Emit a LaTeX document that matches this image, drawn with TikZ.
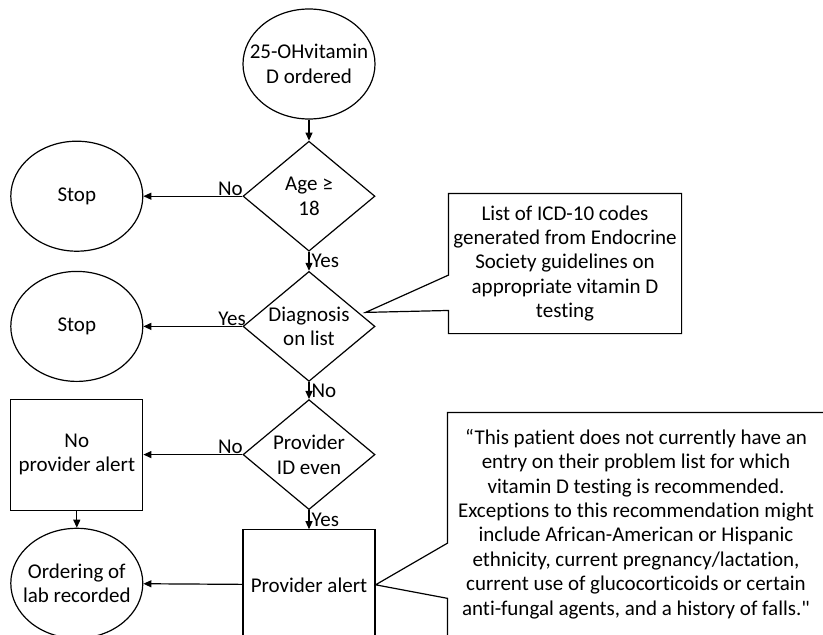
\documentclass[tikz,border=0pt]{standalone}
\usepackage{fontspec}
\setmainfont{Carlito}[Ligatures={TeXOff,NoCommon}]
\usetikzlibrary{arrows.meta,positioning,calc,shapes.geometric}

\begin{document}
\begin{tikzpicture}[x=1pt,y=1pt,line width=1.2pt,
  every node/.style={font=\fontsize{21pt}{24.4pt}\selectfont},
  term/.style={draw,ellipse,minimum width=132pt,minimum height=110pt,
               inner sep=-30pt,align=center},
  test/.style={draw,diamond,aspect=1.2,minimum width=132pt,
               minimum height=110pt,inner sep=-2pt,align=center},
  box/.style={draw,minimum width=132pt,minimum height=111pt,align=center},
  note/.style={align=center,inner sep=0pt},
  flow/.style={-{Triangle[length=8pt,width=7pt]}},
  lbl/.style={inner sep=2pt}]
  \useasboundingbox (0,0) rectangle (823,-635);
  \node[term] (start) at (309,-64) {25-OHvitamin\\D ordered};
  \node[test,below=21pt of start] (age) {Age ≥\\18};
  \node[test,below=19pt of age] (diag) {Diagnosis\\on list};
  \node[test,below=17pt of diag] (prov) {Provider\\ID even};
  \node[box,below=19pt of prov,minimum height=110pt] (alert) {Provider alert};
  \node[term,left=99pt of age] (stop1) {Stop};
  \node[term,left=99pt of diag] (stop2) {Stop};
  \node[box,left=99pt of prov] (noalert) {No\\provider alert};
  \node[term,below=17pt of noalert] (order) {Ordering of\\lab recorded};
  \node[note,minimum width=232pt,minimum height=139pt] (note1) at (565,-263.5)
       {List of ICD-10 codes\\generated from Endocrine\\Society guidelines on\\
        appropriate vitamin D\\testing};
  \node[note,minimum width=376pt,minimum height=222pt] (note2) at (636,-524)
       {“This patient does not currently have an\\
        entry on their problem list for which\\
        vitamin D testing is recommended.\\
        Exceptions to this recommendation might\\
        include African-American or Hispanic\\
        ethnicity, current pregnancy/lactation,\\
        current use of glucocorticoids or certain\\
        anti-fungal agents, and a history of falls."};
  \coordinate (tip1) at ($(diag.east)+(-10,14)$);
  \draw[flow] (start) -- (age);
  \draw[flow] (age) -- node[right,lbl] {Yes} (diag);
  \draw[flow] (diag) -- node[right,lbl] {No} (prov);
  \draw[flow] (prov) -- node[right,lbl] {Yes} (alert);
  \draw[flow] (age) -- node[pos=0,anchor=base east,lbl,xshift=3pt,yshift=1pt] {No} (stop1);
  \draw[flow] (diag) -- node[pos=0,anchor=base east,lbl,xshift=6pt,yshift=1pt] {Yes} (stop2);
  \draw[flow] (prov) -- node[pos=0,anchor=base east,lbl,xshift=3pt,yshift=1pt] {No} (noalert);
  \draw[flow] (noalert) -- (order);
  \draw[flow] (alert) -- (order);
  \draw (note1.north west) -- ($(note1.north west)!0.583!(note1.south west)$)
        -- (tip1) -- ($(note1.north west)!0.835!(note1.south west)$)
        -- (note1.south west) -| (note1.north east) -- cycle;
  \draw (note2.north west) -- ($(note2.north west)!0.586!(note2.south west)$)
        -- (alert.east) -- ($(note2.north west)!0.833!(note2.south west)$)
        -- (note2.south west) -| (note2.north east) -- cycle;
\end{tikzpicture}
\end{document}
